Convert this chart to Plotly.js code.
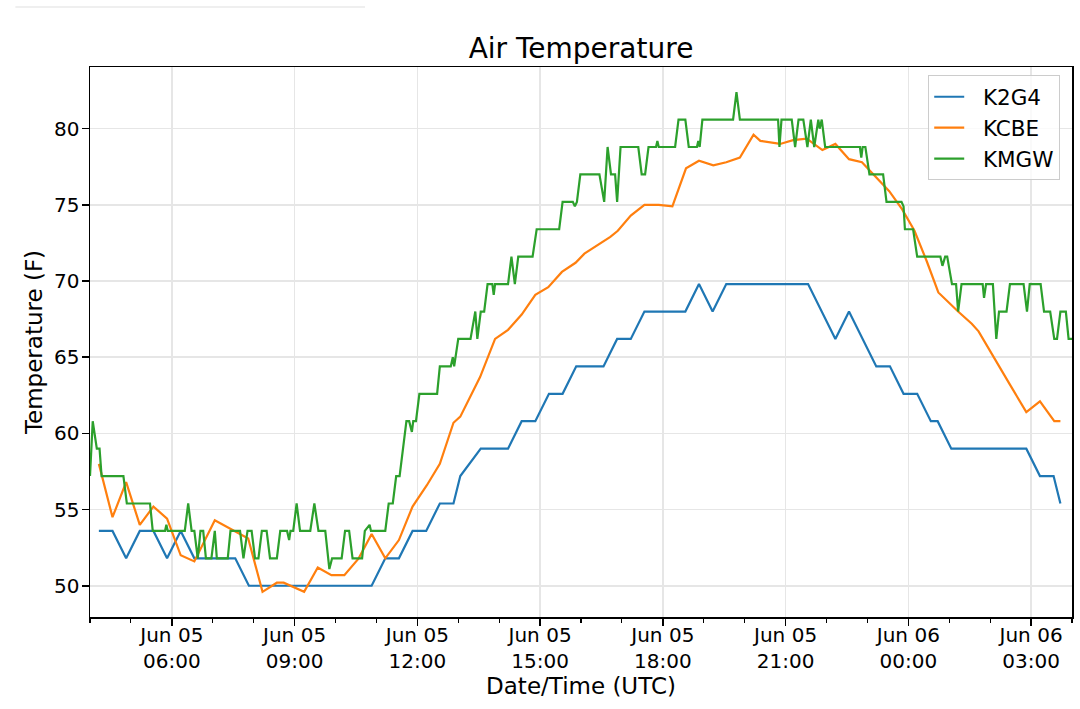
<!DOCTYPE html>
<html>
<head>
<meta charset="utf-8">
<script src="https://cdn.plot.ly/plotly-3.0.1.min.js"></script>
<style>
  html, body { margin: 0; padding: 0; background: #fff; }
  #graph { width: 1080px; height: 709px; }
</style>
</head>
<body>
<div id="graph"></div>
<script>
// station readings (times in UTC, Jun 05 04:00 -> Jun 06 04:00)
var k2g4Times = ['04:13', '04:33', '04:53', '05:13', '05:33', '05:53', '06:13', '06:33', '07:33', '07:53',
  '10:53', '11:13', '11:33', '11:53', '12:13', '12:33', '12:53', '13:03', '13:33', '14:13',
  '14:33', '14:53', '15:13', '15:33', '15:53', '16:33', '16:53', '17:13', '17:33', '18:33',
  '18:53', '19:13', '19:33', '21:33', '22:13', '22:33', '23:13', '23:33', '23:53', '00:13',
  '00:33', '00:43', '01:03', '02:53', '03:13', '03:33', '03:43'];
var k2g4Temps = [53.6, 53.6, 51.8, 53.6, 53.6, 51.8, 53.6, 51.8, 51.8, 50.0,
  50.0, 51.8, 51.8, 53.6, 53.6, 55.4, 55.4, 57.2, 59.0, 59.0,
  60.8, 60.8, 62.6, 62.6, 64.4, 64.4, 66.2, 66.2, 68.0, 68.0,
  69.8, 68.0, 69.8, 69.8, 66.2, 68.0, 64.4, 64.4, 62.6, 62.6,
  60.8, 60.8, 59.0, 59.0, 57.2, 57.2, 55.4];

var kcbeTimes = ['04:13', '04:33', '04:53', '05:13', '05:33', '05:53', '06:13', '06:33', '07:03', '07:52',
  '08:13', '08:34', '08:44', '09:14', '09:34', '09:54', '10:13', '10:34', '10:53', '11:13',
  '11:33', '11:53', '12:14', '12:33', '12:53', '13:03', '13:32', '13:54', '14:13', '14:33',
  '14:53', '15:12', '15:32', '15:52', '16:05', '16:23', '16:43', '16:54', '17:13', '17:33',
  '17:54', '18:14', '18:34', '18:53', '19:14', '19:33', '19:53', '20:13', '20:23', '20:52',
  '21:11', '21:31', '21:54', '22:13', '22:33', '22:52', '23:13', '23:32', '23:51', '00:09',
  '00:27', '00:44', '01:13', '01:33', '01:43', '02:05', '02:29', '02:53', '03:13', '03:34', '03:43'];
var kcbeTemps = [58.0, 54.5, 56.8, 54.0, 55.2, 54.4, 52.0, 51.6, 54.3, 53.1,
  49.6, 50.2, 50.2, 49.6, 51.2, 50.7, 50.7, 51.8, 53.4, 51.8,
  53.0, 55.2, 56.6, 58.0, 60.7, 61.1, 63.7, 66.2, 66.8, 67.8,
  69.1, 69.6, 70.6, 71.2, 71.8, 72.3, 72.9, 73.3, 74.3, 75.0,
  75.0, 74.9, 77.4, 77.9, 77.6, 77.8, 78.1, 79.6, 79.2, 79.0,
  79.25, 79.35, 78.6, 79.0, 78.0, 77.8, 76.8, 75.9, 74.7, 73.3,
  71.3, 69.25, 68.0, 67.2, 66.7, 65.0, 63.2, 61.4, 62.1, 60.8, 60.8];

var kmgwTimes = ['04:00', '04:04', '04:10', '04:14', '04:17', '04:49', '04:54', '05:28', '05:32', '05:50',
  '05:52', '05:54', '06:19', '06:24', '06:29', '06:33', '06:38', '06:42', '06:46', '06:50',
  '06:58', '07:03', '07:06', '07:22', '07:26', '07:40', '07:45', '07:51', '07:57', '08:02',
  '08:07', '08:12', '08:19', '08:24', '08:34', '08:39', '08:49', '08:52', '08:54', '08:58',
  '09:03', '09:08', '09:23', '09:29', '09:35', '09:45', '09:51', '09:55', '10:09', '10:14',
  '10:20', '10:25', '10:39', '10:43', '10:50', '10:52', '11:13', '11:18', '11:24', '11:29',
  '11:34', '11:44', '11:48', '11:52', '11:54', '11:58', '12:03', '12:29', '12:33', '12:49',
  '12:52', '12:54', '13:00', '13:18', '13:25', '13:28', '13:33', '13:38', '13:43', '13:50',
  '13:52', '13:54', '14:13', '14:18', '14:23', '14:28', '14:49', '14:55', '15:28', '15:33',
  '15:48', '15:51', '15:54', '15:59', '16:27', '16:34', '16:39', '16:44', '16:50', '16:53',
  '16:58', '17:24', '17:29', '17:34', '17:39', '17:50', '17:52', '17:54', '18:18', '18:23',
  '18:33', '18:38', '18:50', '18:52', '18:54', '18:58', '19:43', '19:48', '19:53', '20:49',
  '20:51', '20:54', '21:09', '21:14', '21:19', '21:26', '21:32', '21:37', '21:42', '21:48',
  '21:50', '21:53', '21:58', '22:49', '22:51', '22:53', '22:57', '23:03', '23:23', '23:28',
  '23:50', '23:53', '23:55', '00:07', '00:13', '00:47', '00:50', '00:54', '00:57', '01:04',
  '01:10', '01:13', '01:18', '01:49', '01:51', '01:54', '02:04', '02:09', '02:13', '02:24',
  '02:29', '02:49', '02:54', '02:58', '03:14', '03:19', '03:28', '03:34', '03:38', '03:43',
  '03:51', '03:55', '04:00'];
var kmgwTemps = [57.2, 60.8, 59.0, 59.0, 57.2, 57.2, 55.4, 55.4, 53.6, 53.6,
  54.0, 53.6, 53.6, 55.4, 53.6, 53.6, 51.8, 53.6, 53.6, 51.8,
  51.8, 53.6, 51.8, 51.8, 53.6, 53.6, 51.8, 53.6, 53.6, 51.8,
  51.8, 53.6, 53.6, 51.8, 51.8, 53.6, 53.6, 53.0, 53.6, 53.6,
  55.4, 53.6, 53.6, 55.4, 53.6, 53.6, 51.1, 51.8, 51.8, 53.6,
  53.6, 51.8, 51.8, 53.6, 54.0, 53.6, 53.6, 55.4, 55.4, 57.2,
  57.2, 60.8, 60.8, 60.1, 60.8, 60.8, 62.6, 62.6, 64.4, 64.4,
  65.0, 64.4, 66.2, 66.2, 68.0, 66.2, 68.0, 68.0, 69.8, 69.8,
  69.1, 69.8, 69.8, 71.6, 69.8, 71.6, 71.6, 73.4, 73.4, 75.2,
  75.2, 74.9, 75.2, 77.0, 77.0, 75.2, 78.8, 77.0, 77.0, 75.2,
  78.8, 78.8, 77.0, 77.0, 78.8, 78.8, 79.2, 78.8, 78.8, 80.6,
  80.6, 78.8, 78.8, 79.2, 78.8, 80.6, 80.6, 82.4, 80.6, 80.6,
  78.8, 80.6, 80.6, 78.8, 80.6, 80.6, 78.8, 80.6, 78.8, 80.6,
  80.0, 80.6, 78.8, 78.8, 78.1, 78.8, 78.8, 77.0, 77.0, 75.2,
  75.2, 74.9, 73.4, 73.4, 71.6, 71.6, 71.0, 71.6, 71.6, 69.8,
  69.8, 68.0, 69.8, 69.8, 68.9, 69.8, 69.8, 66.2, 68.0, 68.0,
  69.8, 69.8, 68.0, 69.8, 69.8, 68.0, 68.0, 66.2, 66.2, 68.0,
  68.0, 66.2, 66.2];

// times after midnight belong to Jun 06
function toDates(times) {
  var out = [];
  var nextDay = false;
  for (var i = 0; i < times.length; i++) {
    var h = parseInt(times[i].slice(0, 2), 10);
    if (i > 0 && h < parseInt(times[i - 1].slice(0, 2), 10)) nextDay = true;
    out.push((nextDay ? '2019-06-06 ' : '2019-06-05 ') + times[i]);
  }
  return out;
}

var font = 'DejaVu Sans, Liberation Sans, sans-serif';
var pad = '\u00a0\u00a0'; // matplotlib leaves a wider gap between handle and text

var traces = [
  { x: toDates(k2g4Times), y: k2g4Temps, name: pad + 'K2G4', type: 'scatter', mode: 'lines',
    line: { color: '#1f77b4', width: 2.2 } },
  { x: toDates(kcbeTimes), y: kcbeTemps, name: pad + 'KCBE', type: 'scatter', mode: 'lines',
    line: { color: '#ff7f0e', width: 2.2 } },
  { x: toDates(kmgwTimes), y: kmgwTemps, name: pad + 'KMGW', type: 'scatter', mode: 'lines',
    line: { color: '#2ca02c', width: 2.2 } }
];

var layout = {
  width: 1080,
  height: 709,
  paper_bgcolor: '#ffffff',
  plot_bgcolor: '#ffffff',
  font: { family: font, color: '#000000', size: 20 },
  margin: { l: 90, r: 8, t: 67, b: 92, pad: 0 },
  title: {
    text: 'Air Temperature',
    font: { family: font, size: 28, color: '#000000' },
    x: 0.5, xref: 'paper', xanchor: 'center',
    y: 0.932, yref: 'container', yanchor: 'middle'
  },
  xaxis: {
    type: 'date',
    range: ['2019-06-05 04:00', '2019-06-06 04:00'],
    tick0: '2019-06-05 06:00',
    dtick: 3 * 3600 * 1000,
    tickformat: '%b %d<br>%H:%M',
    ticks: 'outside', ticklen: 7, tickwidth: 1.5, tickcolor: '#000000',
    ticklabelstandoff: -8,
    tickfont: { family: font, size: 20, color: '#000000' },
    minor: { dtick: 3600 * 1000, ticks: 'outside', ticklen: 4, tickwidth: 1.1, tickcolor: '#000000', showgrid: false },
    showgrid: true, gridcolor: '#e6e6e6', gridwidth: 1.5,
    showline: true, linecolor: '#000000', linewidth: 1.5, mirror: true,
    zeroline: false,
    title: { text: 'Date/Time (UTC)', font: { family: font, size: 23, color: '#000000' }, standoff: 6 }
  },
  yaxis: {
    range: [47.95, 84.05],
    tick0: 50, dtick: 5,
    ticks: 'outside', ticklen: 7, tickwidth: 1.5, tickcolor: '#000000',
    ticklabelstandoff: -2,
    tickfont: { family: font, size: 20, color: '#000000' },
    showgrid: true, gridcolor: '#e6e6e6', gridwidth: 1.5,
    showline: true, linecolor: '#000000', linewidth: 1.5, mirror: true,
    zeroline: false,
    title: { text: 'Temperature (F)', font: { family: font, size: 23, color: '#000000' }, standoff: 5 }
  },
  legend: {
    x: 0.988, xanchor: 'right', y: 0.985, yanchor: 'top',
    bgcolor: 'rgba(255,255,255,0.8)', bordercolor: '#cccccc', borderwidth: 1,
    font: { family: font, size: 21.5, color: '#000000' }
  },
  shapes: [
    // faint strip at the very top left of the screenshot
    { type: 'line', xref: 'paper', yref: 'paper', x0: -0.076, x1: 0.28, y0: 1.109, y1: 1.109,
      line: { color: '#efefef', width: 2 } }
  ],
  showlegend: true
};

Plotly.newPlot('graph', traces, layout, { displayModeBar: false, staticPlot: true });
</script>
</body>
</html>
